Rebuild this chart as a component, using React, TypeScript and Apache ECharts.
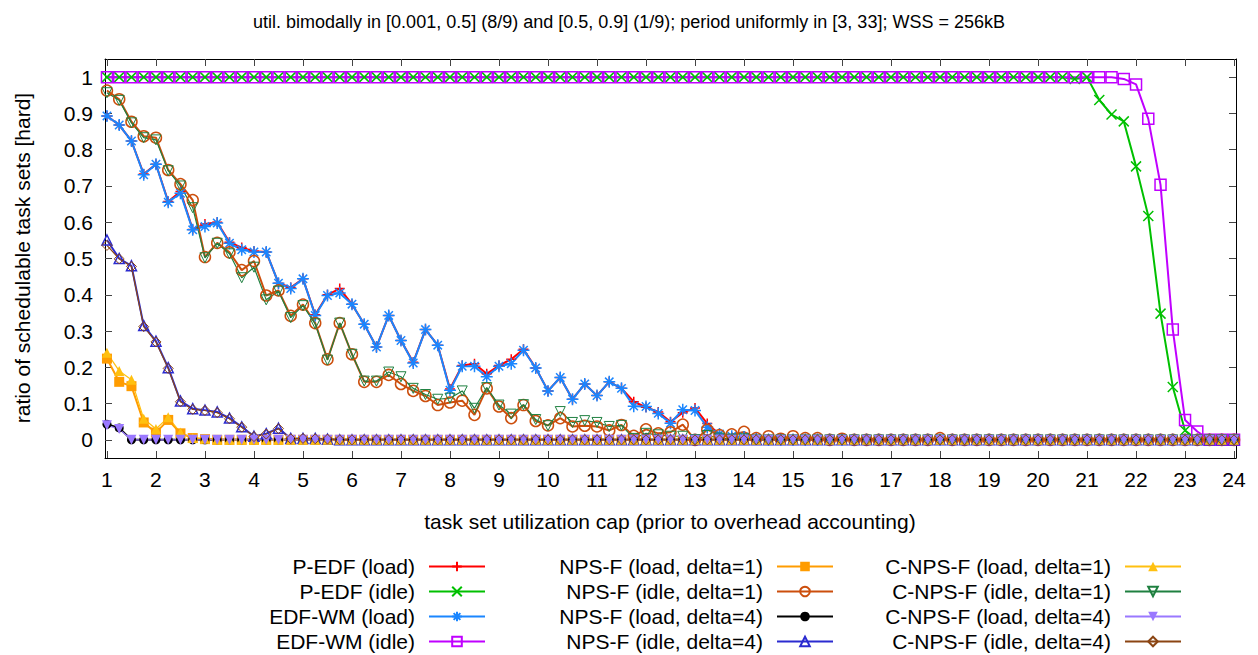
import React, { useEffect, useRef } from 'react';
import * as echarts from 'echarts';

const FONT = '"Liberation Sans", Arial, Helvetica, sans-serif';
const FS = 21;
const TITLE_FS = 18;

const TITLE = 'util. bimodally in [0.001, 0.5] (8/9) and [0.5, 0.9] (1/9); period uniformly in [3, 33]; WSS = 256kB';
const X_NAME = 'task set utilization cap (prior to overhead accounting)';
const Y_NAME = 'ratio of schedulable task sets [hard]';

const X_TICKS = [1, 2, 3, 4, 5, 6, 7, 8, 9, 10, 11, 12, 13, 14, 15, 16, 17, 18, 19, 20, 21, 22, 23, 24];
const Y_TICKS = [0, 0.1, 0.2, 0.3, 0.4, 0.5, 0.6, 0.7, 0.8, 0.9, 1];

const X = [
  1, 1.25, 1.5, 1.75, 2, 2.25, 2.5, 2.75, 3, 3.25, 3.5, 3.75, 4, 4.25, 4.5, 4.75, 5, 5.25, 5.5, 5.75,
  6, 6.25, 6.5, 6.75, 7, 7.25, 7.5, 7.75, 8, 8.25, 8.5, 8.75, 9, 9.25, 9.5, 9.75, 10, 10.25, 10.5, 10.75,
  11, 11.25, 11.5, 11.75, 12, 12.25, 12.5, 12.75, 13, 13.25, 13.5, 13.75, 14, 14.25, 14.5, 14.75, 15, 15.25, 15.5, 15.75,
  16, 16.25, 16.5, 16.75, 17, 17.25, 17.5, 17.75, 18, 18.25, 18.5, 18.75, 19, 19.25, 19.5, 19.75, 20, 20.25, 20.5, 20.75,
  21, 21.25, 21.5, 21.75, 22, 22.25, 22.5, 22.75, 23, 23.25, 23.5, 23.75, 24,
];

const pedfLoad = [
  0.893, 0.868, 0.824, 0.733, 0.76, 0.657, 0.685, 0.58, 0.595, 0.6, 0.545, 0.53, 0.52, 0.518, 0.432, 0.42, 0.444, 0.345, 0.4, 0.417,
  0.374, 0.319, 0.256, 0.343, 0.274, 0.214, 0.304, 0.261, 0.14, 0.205, 0.21, 0.182, 0.205, 0.222, 0.25, 0.198, 0.135, 0.172, 0.112, 0.154,
  0.122, 0.16, 0.142, 0.105, 0.09, 0.077, 0.05, 0.075, 0.088, 0.045, 0.015, 0.008, 0.008, 0.003, 0, 0, 0, 0, 0, 0,
  0, 0, 0, 0, 0, 0, 0, 0, 0, 0, 0, 0, 0, 0, 0, 0, 0, 0, 0, 0,
  0, 0, 0, 0, 0, 0, 0, 0, 0, 0, 0, 0, 0,
];
const pedfIdle = [
  1, 1, 1, 1, 1, 1, 1, 1, 1, 1, 1, 1, 1, 1, 1, 1, 1, 1, 1, 1,
  1, 1, 1, 1, 1, 1, 1, 1, 1, 1, 1, 1, 1, 1, 1, 1, 1, 1, 1, 1,
  1, 1, 1, 1, 1, 1, 1, 1, 1, 1, 1, 1, 1, 1, 1, 1, 1, 1, 1, 1,
  1, 1, 1, 1, 1, 1, 1, 1, 1, 1, 1, 1, 1, 1, 1, 1, 1, 1, 1, 0.995,
  1, 0.937, 0.897, 0.878, 0.754, 0.617, 0.348, 0.146, 0.026, 0, 0, 0, 0,
];
const edfwmLoad = [
  0.893, 0.868, 0.824, 0.731, 0.76, 0.655, 0.68, 0.579, 0.588, 0.598, 0.542, 0.524, 0.518, 0.518, 0.432, 0.417, 0.444, 0.343, 0.398, 0.405,
  0.374, 0.319, 0.256, 0.343, 0.274, 0.212, 0.304, 0.261, 0.137, 0.203, 0.203, 0.174, 0.203, 0.21, 0.247, 0.198, 0.135, 0.172, 0.112, 0.154,
  0.122, 0.16, 0.142, 0.093, 0.092, 0.073, 0.046, 0.083, 0.081, 0.035, 0.016, 0.01, 0.008, 0.003, 0, 0, 0, 0, 0, 0,
  0, 0, 0, 0, 0, 0, 0, 0, 0, 0, 0, 0, 0, 0, 0, 0, 0, 0, 0, 0,
  0, 0, 0, 0, 0, 0, 0, 0, 0, 0, 0, 0, 0,
];
const edfwmIdle = [
  1, 1, 1, 1, 1, 1, 1, 1, 1, 1, 1, 1, 1, 1, 1, 1, 1, 1, 1, 1,
  1, 1, 1, 1, 1, 1, 1, 1, 1, 1, 1, 1, 1, 1, 1, 1, 1, 1, 1, 1,
  1, 1, 1, 1, 1, 1, 1, 1, 1, 1, 1, 1, 1, 1, 1, 1, 1, 1, 1, 1,
  1, 1, 1, 1, 1, 1, 1, 1, 1, 1, 1, 1, 1, 1, 1, 1, 1, 1, 1, 1,
  1, 1, 1, 0.995, 0.98, 0.885, 0.703, 0.304, 0.055, 0.023, 0, 0, 0,
];
const npsLoad1 = [
  0.224, 0.16, 0.148, 0.048, 0.02, 0.055, 0.018, 0.005, 0.002, 0, 0, 0, 0, 0, 0, 0, 0, 0, 0, 0,
  0, 0, 0, 0, 0, 0, 0, 0, 0, 0, 0, 0, 0, 0, 0, 0, 0, 0, 0, 0,
  0, 0, 0, 0, 0, 0, 0, 0, 0, 0, 0, 0, 0, 0, 0, 0, 0, 0, 0, 0,
  0, 0, 0, 0, 0, 0, 0, 0, 0, 0, 0, 0, 0, 0, 0, 0, 0, 0, 0, 0,
  0, 0, 0, 0, 0, 0, 0, 0, 0, 0, 0, 0, 0,
];
const npsIdle1 = [
  0.963, 0.939, 0.877, 0.837, 0.833, 0.744, 0.705, 0.661, 0.504, 0.543, 0.517, 0.468, 0.493, 0.398, 0.412, 0.342, 0.373, 0.322, 0.222, 0.322,
  0.236, 0.16, 0.16, 0.179, 0.154, 0.135, 0.121, 0.096, 0.103, 0.108, 0.069, 0.142, 0.092, 0.06, 0.096, 0.052, 0.04, 0.06, 0.037, 0.039,
  0.037, 0.026, 0.041, 0.011, 0.029, 0.018, 0.021, 0.042, 0, 0.028, 0.013, 0.015, 0.022, 0.005, 0.01, 0.003, 0.01, 0.005, 0.005, 0,
  0.003, 0, 0, 0, 0, 0, 0, 0, 0.005, 0, 0, 0, 0, 0, 0, 0, 0, 0, 0, 0,
  0, 0, 0, 0, 0, 0, 0, 0, 0, 0, 0, 0, 0,
];
const npsLoad4 = [
  0.043, 0.033, 0, 0, 0, 0, 0, 0, 0, 0, 0, 0, 0, 0, 0, 0, 0, 0, 0, 0,
  0, 0, 0, 0, 0, 0, 0, 0, 0, 0, 0, 0, 0, 0, 0, 0, 0, 0, 0, 0,
  0, 0, 0, 0, 0, 0, 0, 0, 0, 0, 0, 0, 0, 0, 0, 0, 0, 0, 0, 0,
  0, 0, 0, 0, 0, 0, 0, 0, 0, 0, 0, 0, 0, 0, 0, 0, 0, 0, 0, 0,
  0, 0, 0, 0, 0, 0, 0, 0, 0, 0, 0, 0, 0,
];
const npsIdle4 = [
  0.551, 0.5, 0.48, 0.315, 0.272, 0.199, 0.107, 0.086, 0.082, 0.077, 0.06, 0.036, 0.01, 0.017, 0.032, 0.004, 0.004, 0.004, 0.002, 0,
  0, 0, 0, 0, 0, 0, 0, 0, 0, 0, 0, 0, 0, 0, 0, 0, 0, 0, 0, 0,
  0, 0, 0, 0, 0, 0, 0, 0, 0, 0, 0, 0, 0, 0, 0, 0, 0, 0, 0, 0,
  0, 0, 0, 0, 0, 0, 0, 0, 0, 0, 0, 0, 0, 0, 0, 0, 0, 0, 0, 0,
  0, 0, 0, 0, 0, 0, 0, 0, 0, 0, 0, 0, 0,
];
const cnpsLoad1 = [
  0.24, 0.19, 0.166, 0.058, 0.03, 0.062, 0.02, 0.005, 0.003, 0, 0, 0, 0, 0, 0, 0, 0, 0, 0, 0,
  0, 0, 0, 0, 0, 0, 0, 0, 0, 0, 0, 0, 0, 0, 0, 0, 0, 0, 0, 0,
  0, 0, 0, 0, 0, 0, 0, 0, 0, 0, 0, 0, 0, 0, 0, 0, 0, 0, 0, 0,
  0, 0, 0, 0, 0, 0, 0, 0, 0, 0, 0, 0, 0, 0, 0, 0, 0, 0, 0, 0,
  0, 0, 0, 0, 0, 0, 0, 0, 0, 0, 0, 0, 0,
];
const cnpsIdle1 = [
  0.957, 0.936, 0.874, 0.833, 0.827, 0.742, 0.7, 0.64, 0.502, 0.542, 0.513, 0.447, 0.476, 0.386, 0.41, 0.337, 0.37, 0.32, 0.22, 0.322,
  0.236, 0.162, 0.162, 0.187, 0.174, 0.142, 0.125, 0.112, 0.115, 0.135, 0.087, 0.144, 0.096, 0.071, 0.097, 0.056, 0.039, 0.078, 0.048, 0.053,
  0.048, 0.037, 0.04, 0.004, 0.018, 0.014, 0.01, 0.01, 0.001, 0.012, 0.005, 0.002, 0.003, 0, 0, 0, 0, 0, 0, 0,
  0, 0, 0, 0, 0, 0, 0, 0, 0, 0, 0, 0, 0, 0, 0, 0, 0, 0, 0, 0,
  0, 0, 0, 0, 0, 0, 0, 0, 0, 0, 0, 0, 0,
];
const cnpsLoad4 = [
  0.04, 0.03, 0, 0, 0, 0, 0, 0, 0, 0, 0, 0, 0, 0, 0, 0, 0, 0, 0, 0,
  0, 0, 0, 0, 0, 0, 0, 0, 0, 0, 0, 0, 0, 0, 0, 0, 0, 0, 0, 0,
  0, 0, 0, 0, 0, 0, 0, 0, 0, 0, 0, 0, 0, 0, 0, 0, 0, 0, 0, 0,
  0, 0, 0, 0, 0, 0, 0, 0, 0, 0, 0, 0, 0, 0, 0, 0, 0, 0, 0, 0,
  0, 0, 0, 0, 0, 0, 0, 0, 0, 0, 0, 0, 0,
];
const cnpsIdle4 = [
  0.536, 0.499, 0.478, 0.312, 0.27, 0.197, 0.105, 0.084, 0.081, 0.075, 0.058, 0.035, 0.009, 0.016, 0.031, 0.003, 0.004, 0.003, 0.002, 0,
  0, 0, 0, 0, 0, 0, 0, 0, 0, 0, 0, 0, 0, 0, 0, 0, 0, 0, 0, 0,
  0, 0, 0, 0, 0, 0, 0, 0, 0, 0, 0, 0, 0, 0, 0, 0, 0, 0, 0, 0,
  0, 0, 0, 0, 0, 0, 0, 0, 0, 0, 0, 0, 0, 0, 0, 0, 0, 0, 0, 0,
  0, 0, 0, 0, 0, 0, 0, 0, 0, 0, 0, 0, 0,
];

const PLUS = 'path://M0,5L10,5M5,0L5,10';
const CROSS = 'path://M0,0L10,10M0,10L10,0';
const STAR = 'path://M0,5L10,5M5,0L5,10M1.5,1.5L8.5,8.5M1.5,8.5L8.5,1.5';
const NONE = 'rgba(0,0,0,0)';

type Def = {
  name: string; data: number[]; color: string; symbol: string; size: number;
  filled: boolean; rotate?: number; lw: number; bw: number; col: number; row: number;
};

const DEFS: Def[] = [
  { name: 'P-EDF (load)', data: pedfLoad, color: '#ff0000', symbol: PLUS, size: 10, filled: false, lw: 2, bw: 1.5, col: 0, row: 0 },
  { name: 'P-EDF (idle)', data: pedfIdle, color: '#00c000', symbol: CROSS, size: 10, filled: false, lw: 2, bw: 1.5, col: 0, row: 1 },
  { name: 'EDF-WM (load)', data: edfwmLoad, color: '#1a86ff', symbol: STAR, size: 12, filled: false, lw: 2, bw: 1.5, col: 0, row: 2 },
  { name: 'EDF-WM (idle)', data: edfwmIdle, color: '#c000ff', symbol: 'rect', size: 11, filled: false, lw: 2, bw: 1.5, col: 0, row: 3 },
  { name: 'NPS-F (load, delta=1)', data: npsLoad1, color: '#ff9c00', symbol: 'rect', size: 10, filled: true, lw: 2, bw: 0, col: 1, row: 0 },
  { name: 'NPS-F (idle, delta=1)', data: npsIdle1, color: '#cc4e0c', symbol: 'circle', size: 11, filled: false, lw: 2, bw: 1.5, col: 1, row: 1 },
  { name: 'NPS-F (load, delta=4)', data: npsLoad4, color: '#000000', symbol: 'circle', size: 9, filled: true, lw: 2, bw: 0, col: 1, row: 2 },
  { name: 'NPS-F (idle, delta=4)', data: npsIdle4, color: '#2b2bd0', symbol: 'triangle', size: 10, filled: false, lw: 2, bw: 1.5, col: 1, row: 3 },
  { name: 'C-NPS-F (load, delta=1)', data: cnpsLoad1, color: '#ffc010', symbol: 'triangle', size: 10, filled: true, lw: 1.2, bw: 0, col: 2, row: 0 },
  { name: 'C-NPS-F (idle, delta=1)', data: cnpsIdle1, color: '#1f8040', symbol: 'triangle', rotate: 180, size: 10, filled: false, lw: 1.2, bw: 1, col: 2, row: 1 },
  { name: 'C-NPS-F (load, delta=4)', data: cnpsLoad4, color: '#9a78ff', symbol: 'triangle', rotate: 180, size: 10, filled: true, lw: 1.2, bw: 0, col: 2, row: 2 },
  { name: 'C-NPS-F (idle, delta=4)', data: cnpsIdle4, color: '#8b4513', symbol: 'diamond', size: 10, filled: false, lw: 1.2, bw: 1, col: 2, row: 3 },
];

// legend layout (pixel positions)
const LEG_MARKER_X = [458, 806, 1154];
const LEG_ROW_Y = [568, 593, 618, 643];
const LEG_W = 56;

const GRID = { left: 105, right: 22, top: 59, bottom: 197 };

function buildOption() {
  const tickStyle = { color: '#444', width: 1 };
  const lineAx = { onZero: false, lineStyle: { color: '#000', width: 1 } };
  const labelStyle = { fontFamily: FONT, fontSize: FS, color: '#000' };
  const xBase = { type: 'value', min: 0.96, max: 24.04, splitLine: { show: false }, axisLine: lineAx };
  const yBase = { type: 'value', min: -0.05, max: 1.05, splitLine: { show: false }, axisLine: lineAx };
  const fmtY = (v: number) => String(Number(v.toFixed(1)));

  return {
    animation: false,
    backgroundColor: '#ffffff',
    grid: { ...GRID, containLabel: false },
    xAxis: [
      {
        ...xBase, position: 'bottom',
        axisTick: { inside: true, length: 7, customValues: X_TICKS, lineStyle: tickStyle },
        axisLabel: { customValues: X_TICKS, margin: 11, ...labelStyle },
      },
      {
        ...xBase, position: 'top',
        axisTick: { inside: true, length: 7, customValues: X_TICKS, lineStyle: tickStyle },
        axisLabel: { show: false },
      },
    ],
    yAxis: [
      {
        ...yBase, position: 'left',
        axisTick: { inside: true, length: 7, customValues: Y_TICKS, lineStyle: tickStyle },
        axisLabel: { customValues: Y_TICKS, margin: 12, formatter: fmtY, ...labelStyle },
      },
      {
        ...yBase, position: 'right',
        axisTick: { inside: true, length: 7, customValues: Y_TICKS, lineStyle: tickStyle },
        axisLabel: { show: false },
      },
    ],
    legend: DEFS.map((d) => ({
      data: [d.name],
      orient: 'vertical',
      align: 'right',
      right: 1258 - (LEG_MARKER_X[d.col] + LEG_W / 2),
      top: LEG_ROW_Y[d.row] - 12,
      itemWidth: LEG_W,
      itemHeight: 12,
      padding: 0,
      selectedMode: false,
      textStyle: { fontFamily: FONT, fontSize: FS, color: '#000', padding: [0, 9, 0, 0] },
    })),
    graphic: [
      {
        type: 'text', x: 629, y: 22,
        style: { text: TITLE, font: `${TITLE_FS}px ${FONT}`, fill: '#000', align: 'center', verticalAlign: 'middle' },
      },
      {
        type: 'text', x: 670, y: 521,
        style: { text: X_NAME, font: `${FS}px ${FONT}`, fill: '#000', align: 'center', verticalAlign: 'middle' },
      },
      {
        type: 'text', x: 22, y: 258, rotation: Math.PI / 2,
        style: { text: Y_NAME, font: `${FS}px ${FONT}`, fill: '#000', align: 'center', verticalAlign: 'middle' },
      },
    ],
    series: DEFS.map((d) => ({
      name: d.name,
      type: 'line',
      xAxisIndex: 0,
      yAxisIndex: 0,
      data: X.map((x, i) => [x, d.data[i]]),
      symbol: d.symbol,
      symbolSize: d.size,
      symbolRotate: d.rotate || 0,
      showAllSymbol: true,
      lineStyle: { color: d.color, width: d.lw },
      itemStyle: d.filled
        ? { color: d.color, borderWidth: 0 }
        : { color: NONE, borderColor: d.color, borderWidth: d.bw },
      emphasis: { disabled: true },
    })),
  };
}

export default function App() {
  const ref = useRef<HTMLDivElement>(null);
  useEffect(() => {
    if (!ref.current) return;
    const chart = echarts.init(ref.current, null, { renderer: 'svg' });
    chart.setOption(buildOption() as any);
    return () => chart.dispose();
  }, []);
  return (
    <div
      ref={ref}
      style={{ position: 'fixed', left: 0, top: 0, width: 1258, height: 655, background: '#fff' }}
    />
  );
}
